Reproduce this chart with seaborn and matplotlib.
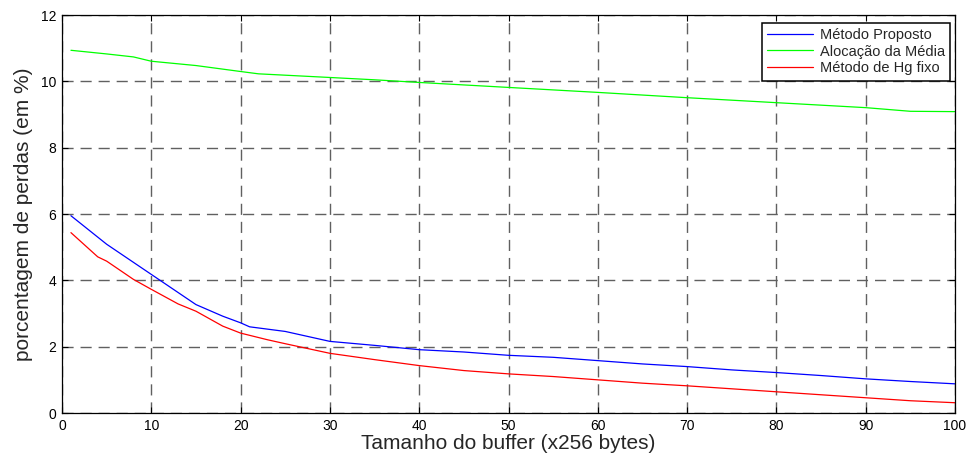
import matplotlib
matplotlib.use("Agg")
import matplotlib.pyplot as plt
import seaborn as sns
import pandas as pd

blue_x = [1, 5, 10, 15, 18, 20, 21, 25, 30, 35, 40, 45, 50, 55, 60, 65, 70, 75, 80, 85, 90, 95, 100]
blue_y = [5.95, 5.09, 4.18, 3.27, 2.92, 2.72, 2.60, 2.46, 2.16, 2.04, 1.91, 1.84, 1.74, 1.68, 1.58, 1.48,
          1.40, 1.30, 1.22, 1.13, 1.03, 0.95, 0.88]

green_x = [1, 5, 8, 10, 15, 20, 22, 30, 35, 40, 50, 60, 70, 80, 90, 95, 100]
green_y = [10.94, 10.83, 10.74, 10.61, 10.48, 10.30, 10.23, 10.12, 10.05, 9.97, 9.82, 9.67, 9.51,
           9.36, 9.21, 9.10, 9.09]

red_x = [1, 4, 5, 8, 10, 13, 15, 18, 20, 23, 25, 30, 35, 40, 45, 50, 55, 60, 65, 70, 75, 80, 85, 90, 95, 100]
red_y = [5.44, 4.71, 4.58, 4.03, 3.73, 3.29, 3.07, 2.62, 2.41, 2.21, 2.09, 1.80, 1.61, 1.43, 1.28, 1.18,
         1.10, 1.00, 0.90, 0.82, 0.73, 0.64, 0.55, 0.46, 0.37, 0.31]

series_names = ["Método Proposto", "Alocação da Média", "Método de Hg fixo"]
series_colors = ["#0000ff", "#00ff00", "#ff0000"]

x_ticks = [0, 10, 20, 30, 40, 50, 60, 70, 80, 90, 100]
y_ticks = [0, 2, 4, 6, 8, 10, 12]

frames = []
for name, xs, ys in zip(series_names, [blue_x, green_x, red_x], [blue_y, green_y, red_y]):
    frames.append(pd.DataFrame({"x": xs, "y": ys, "serie": name}))
df = pd.concat(frames, ignore_index=True)

sns.set_theme(style="white")
plt.rcParams["font.family"] = ["Liberation Sans", "DejaVu Sans"]

fig = plt.figure(figsize=(9.69, 4.59), dpi=100)
ax = fig.add_axes([0.064, 0.1002, 0.9216, 0.8668])

sns.lineplot(data=df, x="x", y="y", hue="serie", hue_order=series_names,
             palette=dict(zip(series_names, series_colors)), linewidth=0.9, ax=ax,
             estimator=None, sort=False)

ax.set_xlim(0, 100)
ax.set_ylim(0, 12)
ax.set_xticks(x_ticks)
ax.set_yticks(y_ticks)
ax.tick_params(axis="both", direction="in", length=4, width=0.8, labelsize=10,
               top=True, right=True, bottom=True, left=True, colors="black", pad=4)
ax.grid(True, color="#606060", linestyle=(0, (8, 5)), linewidth=1.0)
for s in ax.spines.values():
    s.set_visible(True)
    s.set_color("black")
    s.set_linewidth(0.9)

ax.set_xlabel("Tamanho do buffer (x256 bytes)", fontsize=15, labelpad=1)
ax.set_ylabel("porcentagem de perdas (em %)", fontsize=15, labelpad=6)

leg = ax.legend(loc="upper right", bbox_to_anchor=(0.9995, 0.9925), fontsize=10.5, frameon=True,
                fancybox=False, framealpha=1, edgecolor="black", handlelength=3.2,
                borderpad=0.35, labelspacing=0.2, handletextpad=0.45, borderaxespad=0.3)
leg.get_frame().set_linewidth(1.1)
leg.set_title(None)

fig.savefig("out.png", dpi=100)
